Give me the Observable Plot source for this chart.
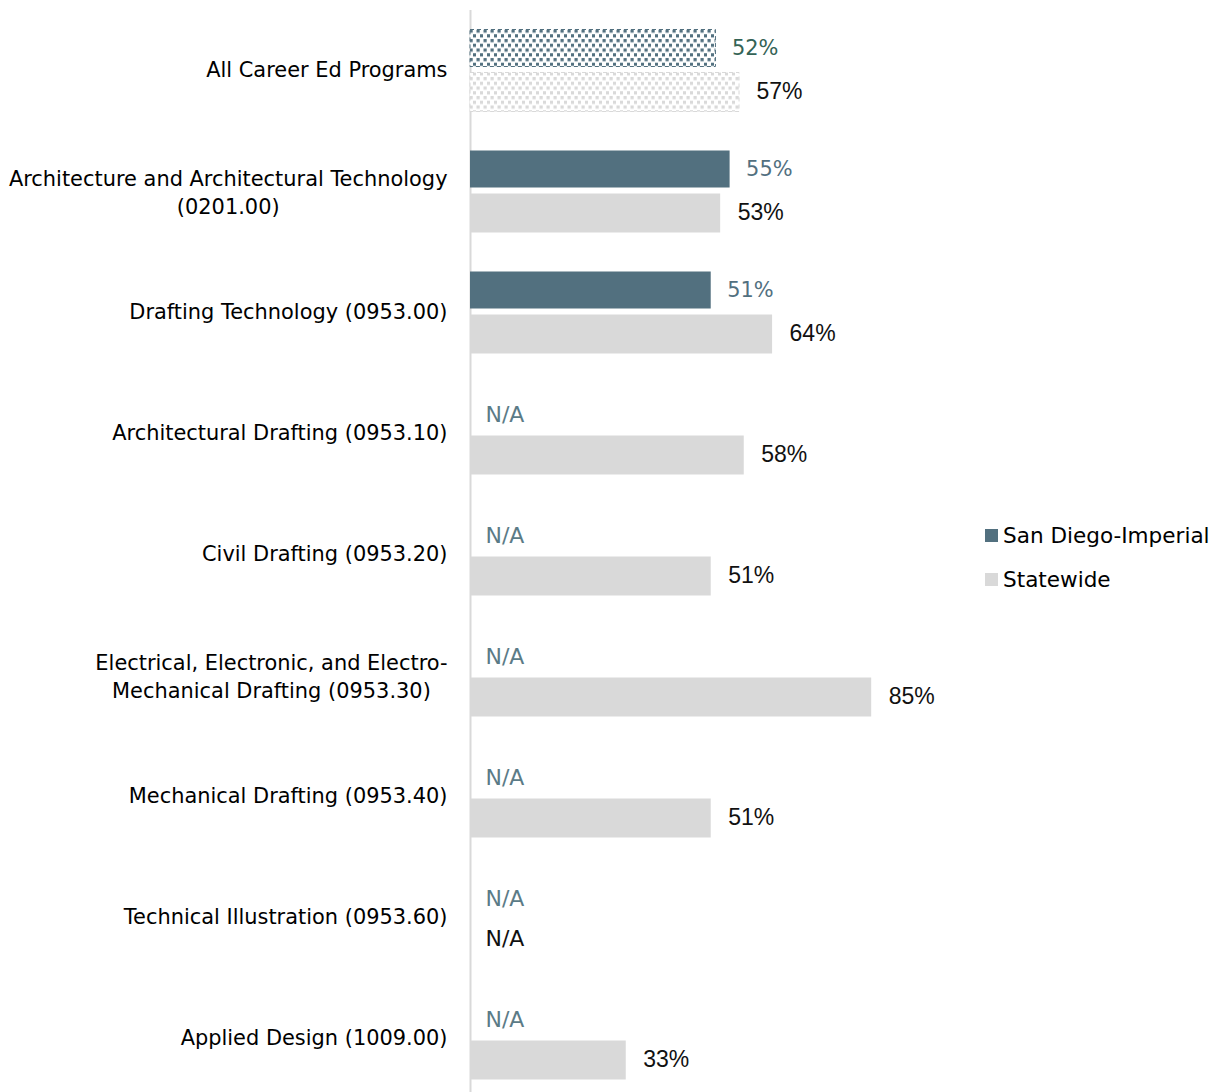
<!DOCTYPE html>
<html><head><meta charset="utf-8">
<script src="https://cdn.jsdelivr.net/npm/d3@7"></script>
<script src="https://cdn.jsdelivr.net/npm/@observablehq/plot@0.6"></script>
<style>
body{margin:0;background:#fff}
#wrap{position:relative;width:1215px;height:1092px}
#legend{position:absolute;left:985px;top:513px;font-family:"DejaVu Sans",sans-serif;color:#000}
#legend .item{display:flex;align-items:center;height:44px;margin:0}
#legend .sw{width:13px;height:13px;margin-right:5px;flex:none}
</style>
</head><body><div id="wrap"></div>
<script>
// ---- data ----
const categories = [
  "All Career Ed Programs",
  "Architecture and Architectural Technology (0201.00)",
  "Drafting Technology (0953.00)",
  "Architectural Drafting (0953.10)",
  "Civil Drafting (0953.20)",
  "Electrical, Electronic, and Electro-Mechanical Drafting (0953.30)",
  "Mechanical Drafting (0953.40)",
  "Technical Illustration (0953.60)",
  "Applied Design (1009.00)"
];
const categoryLabels = [
  "All Career Ed Programs",
  "Architecture and Architectural Technology\n(0201.00)",
  "Drafting Technology (0953.00)",
  "Architectural Drafting (0953.10)",
  "Civil Drafting (0953.20)",
  "Electrical, Electronic, and Electro-\nMechanical Drafting (0953.30)",
  "Mechanical Drafting (0953.40)",
  "Technical Illustration (0953.60)",
  "Applied Design (1009.00)"
];
const sanDiegoImperial = [52, 55, 51, null, null, null, null, null, null];
const statewide = [57, 53, 64, 58, 51, 85, 51, null, 33];
const seriesNames = ["San Diego-Imperial", "Statewide"];

// ---- styles ----
const sdColor = "#52707f";
const swColor = "#d9d9d9";
const sdTopLabel = "#346356";
const naColor = "#5b7b87";
const mainFont = "DejaVu Sans";
const valueFont = "Liberation Sans";

// fit font size so the longest label line matches the reference width
const ctx = document.createElement("canvas").getContext("2d");
function measure(t, size, fam) { ctx.font = `${size}px "${fam}"`; return ctx.measureText(t).width; }
const refLine = "Architecture and Architectural Technology";
const fontSize = Math.max(16, Math.min(22, 20 * 439 / measure(refLine, 20, mainFont)));
const valueSize = fontSize * 1.1;

const rows = categories.map((c, i) => ({cat: c, label: categoryLabels[i], sd: sanDiegoImperial[i], sw: statewide[i], i}));
const singleLine = rows.filter(d => !d.label.includes("\n"));
const multiLine = rows.filter(d => d.label.includes("\n"));

const bandPad = {sdTop: 20.5, sdBottom: 63.5, swTop: 63.5, swBottom: 18.5};
const labelGap = 23;

const marks = [
  Plot.ruleX([0], {stroke: "#d9d9d9", strokeWidth: 2}),
  // San Diego-Imperial
  Plot.barX(rows.filter(d => d.i === 0 && d.sd != null), {x: "sd", y: "cat", fill: "url(#patSD)", stroke: sdColor, strokeWidth: 1, strokeDasharray: "4,3", insetTop: bandPad.sdTop, insetBottom: bandPad.sdBottom}),
  Plot.barX(rows.filter(d => d.i > 0 && d.sd != null), {x: "sd", y: "cat", fill: sdColor, insetTop: bandPad.sdTop, insetBottom: bandPad.sdBottom}),
  // Statewide
  Plot.barX(rows.filter(d => d.i === 0 && d.sw != null), {x: "sw", y: "cat", fill: "url(#patSW)", stroke: swColor, strokeWidth: 1, strokeDasharray: "4,3", insetTop: bandPad.swTop, insetBottom: bandPad.swBottom}),
  Plot.barX(rows.filter(d => d.i > 0 && d.sw != null), {x: "sw", y: "cat", fill: swColor, insetTop: bandPad.swTop, insetBottom: bandPad.swBottom}),
  // value labels
  Plot.text(rows.filter(d => d.i === 0 && d.sd != null), {x: "sd", y: "cat", text: d => d.sd + "%", dx: 16, dy: -22, textAnchor: "start", fill: sdTopLabel, fontFamily: mainFont}),
  Plot.text(rows.filter(d => d.i > 0 && d.sd != null), {x: "sd", y: "cat", text: d => d.sd + "%", dx: 16, dy: -22, textAnchor: "start", fill: sdColor, fontFamily: mainFont}),
  Plot.text(rows.filter(d => d.sd == null), {x: () => 0, y: "cat", text: () => "N/A", dx: 15, dy: -18, textAnchor: "start", fill: naColor, fontFamily: mainFont, fontSize: fontSize * 1.05}),
  Plot.text(rows.filter(d => d.sw != null), {x: "sw", y: "cat", text: d => d.sw + "%", dx: 17, dy: 22, textAnchor: "start", fill: "#111", fontFamily: valueFont, fontSize: valueSize}),
  Plot.text(rows.filter(d => d.sw == null), {x: () => 0, y: "cat", text: () => "N/A", dx: 15, dy: 22, textAnchor: "start", fill: "#111", fontFamily: mainFont, fontSize: fontSize * 1.05}),
  // category labels
  Plot.text(singleLine, {y: "cat", text: "label", frameAnchor: "left", textAnchor: "end", dx: -labelGap, fill: "#000"})
];
for (const d of multiLine) {
  const w = d3.max(d.label.split("\n"), t => measure(t, fontSize, mainFont));
  marks.push(Plot.text([d], {y: "cat", text: "label", frameAnchor: "left", textAnchor: "middle", dx: -(labelGap + w / 2), lineHeight: 1.35, fill: "#000"}));
}

const chart = Plot.plot({
  width: 1215,
  height: 1092,
  marginLeft: 470,
  marginRight: 273,
  marginTop: 10,
  marginBottom: 0,
  style: {fontFamily: mainFont, fontSize: fontSize + "px", background: "#fff", overflow: "visible"},
  x: {domain: [0, 100], axis: null},
  y: {domain: categories, range: [8.5, 1098.5], padding: 0, axis: null},
  marks
});

// patterns for the "All Career Ed Programs" bars
const ns = "http://www.w3.org/2000/svg";
const defs = document.createElementNS(ns, "defs");
function makePattern(id, color) {
  const p = document.createElementNS(ns, "pattern");
  p.setAttribute("id", id);
  p.setAttribute("patternUnits", "userSpaceOnUse");
  p.setAttribute("width", 7);
  p.setAttribute("height", 9.5);
  const bg = document.createElementNS(ns, "rect");
  bg.setAttribute("width", 7); bg.setAttribute("height", 9.5); bg.setAttribute("fill", "#fff");
  p.appendChild(bg);
  for (const [x, y] of [[0.5, 1], [4, 5.75]]) {
    const r = document.createElementNS(ns, "rect");
    r.setAttribute("x", x); r.setAttribute("y", y);
    r.setAttribute("width", 3.2); r.setAttribute("height", 3.2);
    r.setAttribute("fill", color);
    p.appendChild(r);
  }
  defs.appendChild(p);
}
makePattern("patSD", sdColor);
makePattern("patSW", swColor);
chart.insertBefore(defs, chart.firstChild);

const wrap = document.getElementById("wrap");
wrap.appendChild(chart);

// legend
const legend = document.createElement("div");
legend.id = "legend";
legend.style.fontSize = (fontSize * 1.03) + "px";
legend.innerHTML = seriesNames.map((n, i) =>
  `<div class="item"><span class="sw" style="background:${[sdColor, swColor][i]}"></span><span>${n}</span></div>`).join("");
wrap.appendChild(legend);
</script>
</body></html>
